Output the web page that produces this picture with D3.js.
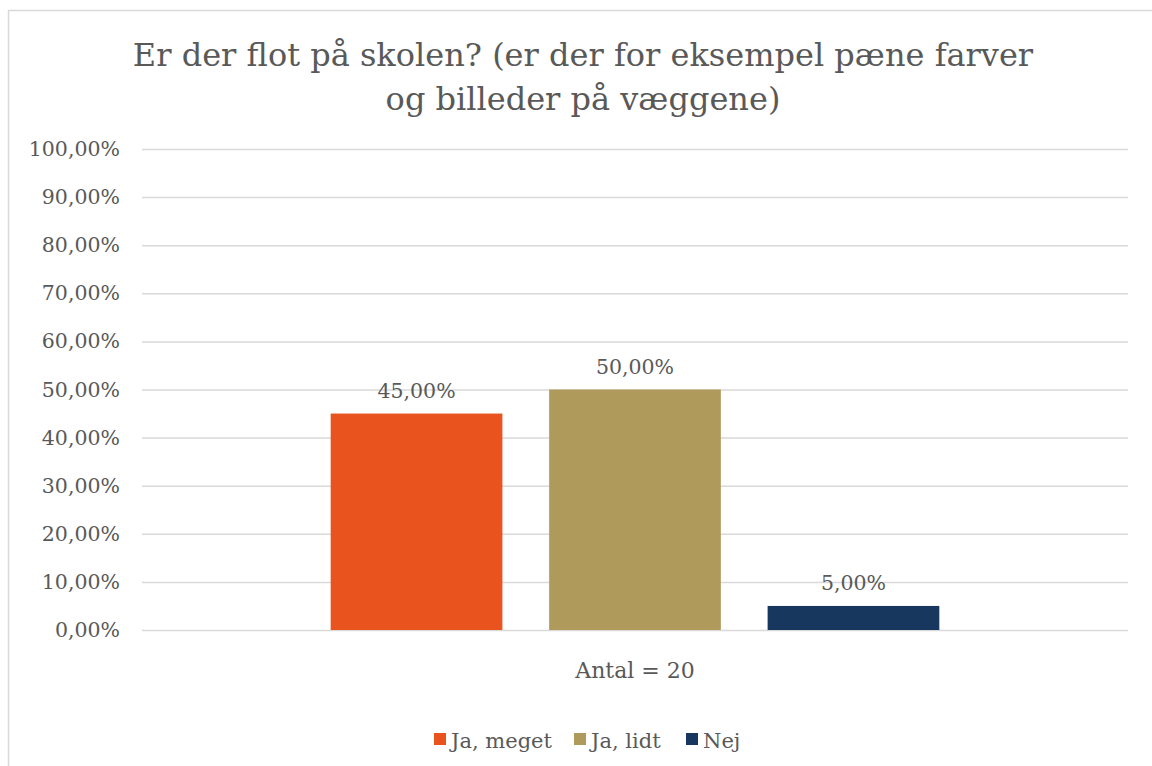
<!DOCTYPE html>
<html>
<head>
<meta charset="utf-8">
<script src="https://cdn.jsdelivr.net/npm/d3@7"></script>
<style>
  html, body { margin: 0; padding: 0; background: #fff; }
  svg { display: block; }
  text { font-family: "DejaVu Serif", Georgia, serif; fill: #595959; }
</style>
</head>
<body>
<svg id="chart" width="1152" height="766"></svg>
<script>
const titleLines = ["Er der flot på skolen? (er der for eksempel pæne farver", "og billeder på væggene)"];
const category = "Antal = 20";
const seriesNames = ["Ja, meget", "Ja, lidt", "Nej"];
const seriesValues = [0.45, 0.50, 0.05];
const seriesColors = ["#E9531E", "#B09A5B", "#17375E"];
const yTicks = [0, 0.1, 0.2, 0.3, 0.4, 0.5, 0.6, 0.7, 0.8, 0.9, 1.0];

const svg = d3.select("#chart");
const fmt = v => (v * 100).toFixed(2).replace(".", ",") + "%";

// chart frame
svg.append("rect").attr("x", 8.5).attr("y", 10.5).attr("width", 1200).attr("height", 800)
  .attr("fill", "#fff").attr("stroke", "#D9D9D9").attr("stroke-width", 1.5);

const plot = { left: 142, right: 1128, top: 149, bottom: 630 };
const y = d3.scaleLinear().domain([0, 1]).range([plot.bottom, plot.top]);
const x0 = d3.scaleBand().domain([category]).range([plot.left, plot.right]).paddingInner(0).paddingOuter(0.31);
const x1 = d3.scaleBand().domain(seriesNames).range([0, x0.bandwidth()]).paddingInner(0.214);

// title
const title = svg.append("text").attr("text-anchor", "middle").attr("font-size", 32).attr("fill", "#595959");
titleLines.forEach((t, i) => {
  title.append("tspan").attr("x", 583).attr("y", 66 + i * 44).text(t);
});

// grid + y axis
const yAxis = d3.axisLeft(y).tickValues(yTicks).tickFormat(fmt).tickSize(-(plot.right - plot.left)).tickPadding(22);
const gy = svg.append("g").attr("transform", `translate(${plot.left},0)`).call(yAxis);
gy.select(".domain").remove();
gy.selectAll(".tick line").attr("stroke", "#D9D9D9").attr("stroke-width", 1.5);
gy.selectAll(".tick text").attr("font-size", 20.5).attr("fill", "#595959")
  .style("font-family", "'DejaVu Serif', serif");

// bars
const g = svg.append("g").attr("transform", `translate(${x0(category)},0)`);
g.selectAll("rect.bar").data(seriesValues).join("rect")
  .attr("class", "bar")
  .attr("x", (d, i) => x1(seriesNames[i]))
  .attr("y", d => y(d))
  .attr("width", x1.bandwidth())
  .attr("height", d => y(0) - y(d))
  .attr("fill", (d, i) => seriesColors[i]);

g.selectAll("text.lbl").data(seriesValues).join("text")
  .attr("class", "lbl")
  .attr("x", (d, i) => x1(seriesNames[i]) + x1.bandwidth() / 2)
  .attr("y", d => y(d) - 16)
  .attr("text-anchor", "middle")
  .attr("font-size", 20.5)
  .attr("fill", "#404040")
  .text(d => fmt(d));

// x axis category label
const xAxis = d3.axisBottom(x0).tickSize(0).tickPadding(32);
const gx = svg.append("g").attr("transform", `translate(0,${plot.bottom})`).call(xAxis);
gx.select(".domain").remove();
gx.selectAll(".tick text").attr("font-size", 22).attr("fill", "#595959")
  .style("font-family", "'DejaVu Serif', serif");

// legend
const legendItems = [
  { name: seriesNames[0], color: seriesColors[0], x: 434 },
  { name: seriesNames[1], color: seriesColors[1], x: 574 },
  { name: seriesNames[2], color: seriesColors[2], x: 686 }
];
const lg = svg.append("g");
legendItems.forEach(it => {
  lg.append("rect").attr("x", it.x).attr("y", 733).attr("width", 12).attr("height", 12).attr("fill", it.color);
  lg.append("text").attr("x", it.x + 17).attr("y", 748).attr("font-size", 21).text(it.name);
});
</script>
</body>
</html>
